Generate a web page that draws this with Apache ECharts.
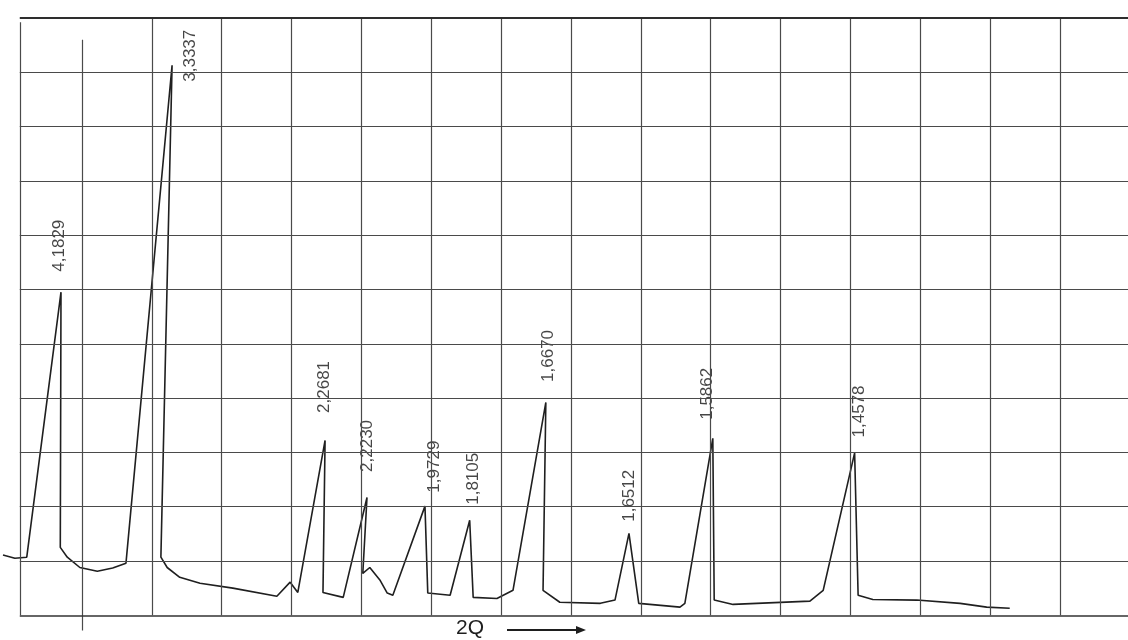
<!DOCTYPE html>
<html>
<head>
<meta charset="utf-8">
<script src="https://cdn.jsdelivr.net/npm/echarts@6/dist/echarts.min.js"></script>
<style>
html,body{margin:0;padding:0;background:#ffffff;}
#chart{width:1128px;height:640px;}
</style>
</head>
<body>
<div id="chart"></div>
<script>
// ---- data (x in grid divisions along 2Q, y in grid divisions of intensity) ----
const traceX = [-0.13, 0.04, 0.21, 0.70, 0.69, 0.79, 0.97, 1.22, 1.44, 1.63,
  2.29, 2.13, 2.22, 2.40, 2.69, 3.16, 3.79, 3.98, 4.09, 4.48,
  4.45, 4.74, 5.08, 5.02, 5.12, 5.27, 5.37, 5.45, 5.91, 5.95,
  6.27, 6.55, 6.60, 6.94, 7.17, 7.64, 7.60, 7.84, 8.42, 8.63,
  8.83, 8.97, 9.56, 9.63, 10.03, 10.05, 10.32, 11.42, 11.61, 12.06,
  12.11, 12.32, 12.95, 13.57, 13.95, 14.28];
const traceY = [1.11, 1.05, 1.07, 5.95, 1.25, 1.07, 0.88, 0.81, 0.87, 0.96,
  10.13, 1.07, 0.88, 0.70, 0.59, 0.50, 0.35, 0.61, 0.42, 3.22,
  0.42, 0.33, 2.17, 0.77, 0.88, 0.64, 0.41, 0.37, 2.01, 0.41,
  0.37, 1.75, 0.33, 0.31, 0.46, 3.92, 0.46, 0.24, 0.22, 0.28,
  1.51, 0.22, 0.15, 0.22, 3.26, 0.28, 0.20, 0.26, 0.46, 2.99,
  0.37, 0.29, 0.28, 0.22, 0.15, 0.13];
const peakIndex = [3, 10, 19, 22, 28, 31, 35, 40, 44, 49];
const peakLabels = ['4,1829', '3,3337', '2,2681', '2,2230', '1,9729', '1,8105', '1,6670', '1,6512', '1,5862', '1,4578'];
// grid ticks
const xGridTicks = [1, 2, 3, 4, 5, 6, 7, 8, 9, 10, 11, 12, 13, 14, 15];
const yGridTicks = [0, 1, 2, 3, 4, 5, 6, 7, 8, 9, 10, 11];
const frameX = 0.11;

// ---- layout (not data) ----
const xMin = -0.173, xMax = 15.973, yMin = -0.4, yMax = 11;
const labelNudge = [[-1, 20], [19, -17], [0, 27], [1, 25], [10, 13], [4, 15], [3, 20], [1, 11], [-5, 18], [5, 15]];

const tracePoints = traceX.map((x, i) => [x, traceY[i]]);
const peakData = peakIndex.map((idx, i) => ({
  value: [traceX[idx], traceY[idx]],
  name: peakLabels[i],
  label: { position: [labelNudge[i][0], -labelNudge[i][1]] }
}));

const gridLines = [];
gridLines.push([{ coord: [frameX, 0] }, { coord: [frameX, 11 - 0.08] }]);
xGridTicks.forEach(x => {
  if (x === 1) {
    gridLines.push([{ coord: [x, -0.28] }, { coord: [x, 10.6] }]);
  } else {
    gridLines.push([{ coord: [x, 0] }, { coord: [x, 11] }]);
  }
});
yGridTicks.forEach(y => {
  const item = [{ coord: [frameX, y] }, { coord: [xMax, y] }];
  if (y === 11) {
    item[0].lineStyle = { width: 2, color: '#2e2e2e' };
  }
  if (y === 0) {
    item[0].lineStyle = { width: 1.6, color: '#333' };
  }
  gridLines.push(item);
});

const chart = echarts.init(document.getElementById('chart'), null, { renderer: 'canvas' });
chart.setOption({
  animation: false,
  backgroundColor: '#ffffff',
  grid: { left: 0, right: 0, top: 18, bottom: 3 },
  xAxis: {
    type: 'value', min: xMin, max: xMax,
    axisLine: { show: false }, axisTick: { show: false },
    axisLabel: { show: false }, splitLine: { show: false }
  },
  yAxis: {
    type: 'value', min: yMin, max: yMax,
    axisLine: { show: false }, axisTick: { show: false },
    axisLabel: { show: false }, splitLine: { show: false }
  },
  graphic: [
    {
      type: 'text', left: 456, top: 618,
      style: { text: '2Q', font: '21px "Liberation Sans", Arial, sans-serif', fill: '#1e1e1e' }
    },
    {
      type: 'line', shape: { x1: 507, y1: 630, x2: 579, y2: 630 },
      style: { stroke: '#1e1e1e', lineWidth: 1.8 }
    },
    {
      type: 'polygon', shape: { points: [[576, 626], [586, 630], [576, 634]] },
      style: { fill: '#1e1e1e' }
    }
  ],
  series: [
    {
      name: 'grid', type: 'line', z: 1, clip: false,
      data: [[xMin, 0]], symbol: 'none', lineStyle: { opacity: 0 },
      silent: true,
      markLine: {
        silent: true, symbol: 'none', animation: false,
        label: { show: false },
        lineStyle: { color: '#4a4a4a', width: 1.2, type: 'solid' },
        emphasis: { disabled: true },
        data: gridLines
      }
    },
    {
      name: 'trace', type: 'line', z: 3, clip: false,
      data: tracePoints, symbol: 'none', smooth: false,
      lineStyle: { color: '#1f1f1f', width: 1.6 }
    },
    {
      name: 'peaks', type: 'scatter', z: 4,
      data: peakData, symbolSize: 1,
      itemStyle: { color: 'rgba(0,0,0,0)' },
      label: {
        show: true, rotate: 90,
        align: 'left', verticalAlign: 'middle',
        formatter: p => p.name,
        fontFamily: '"Liberation Sans", Arial, sans-serif',
        fontSize: 17, color: '#161616'
      }
    }
  ]
});
</script>
</body>
</html>
